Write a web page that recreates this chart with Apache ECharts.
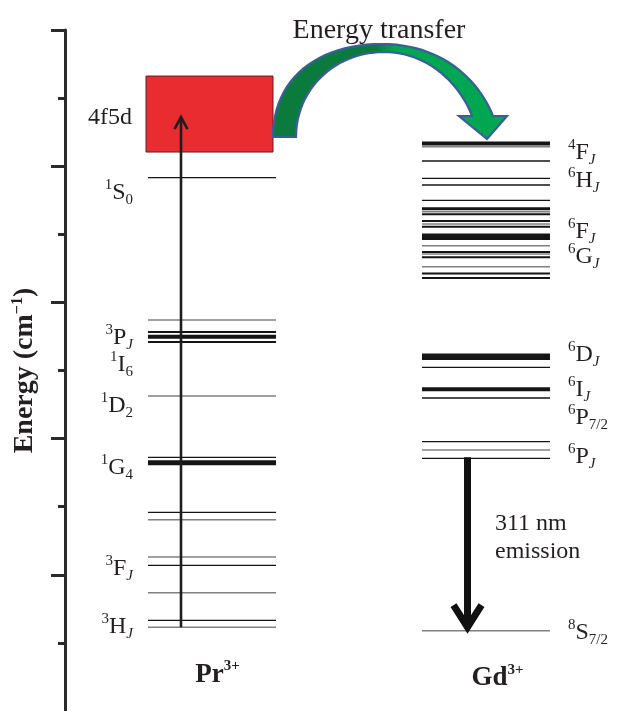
<!DOCTYPE html>
<html><head><meta charset="utf-8">
<script src="https://cdn.jsdelivr.net/npm/echarts@6/dist/echarts.min.js"></script>
<style>html,body{margin:0;padding:0;background:#fff}#c{width:643px;height:711px}</style>
</head><body><div id="c"></div>
<script>
// ---- Data (energies in cm^-1 on the schematic axis) ----
const axisMin = 0, axisMax = 50000, axisStep = 10000;
const majorTicks = [10000, 20000, 30000, 40000, 50000];

const pr4f5dBand = [41040, 46620];
const prLevels = [39155, 28707, 27826, 27481, 27092, 23127, 18627, 18230, 14589, 14045, 11307, 10697, 8686, 6659, 6145];
const prLevelStyle = ['k1','g1','k2','k4','k2','g1','k1','k5','k1','g1','g1','k1','g1','k1','g1'];
const prLabels = ['{sup|1}{m|S}{sub|0}', '{sup|3}{m|P}{subi|J}', '{sup|1}{m|I}{sub|6}', '{sup|1}{m|D}{sub|2}', '{sup|1}{m|G}{sub|4}', '{sup|3}{m|F}{subi|J}', '{sup|3}{m|H}{subi|J}'];
const prLabelEnergy = [38252, 27606, 25624, 22613, 18061, 10645, 6388];

const gdLevels = [41666, 41431, 40381, 39111, 38619, 37496, 36879, 36651, 36468, 35976, 35756, 35557, 34823, 34162, 33700, 33553, 33311, 32621, 32121, 31791, 26013, 25234, 23619, 22980, 19772, 19163, 18553, 5896];
const gdLevelStyle = ['k4','g1','k1','k1','k1','k1','k3','g1','k2','k2','g1','k2','k7','g1','k2','g1','k2','g1','k2','k2','k7','k1','k4','k1','k1','g1','k1','g1'];
const gdLabels = ['{sup|4}{m|F}{subi|J}', '{sup|6}{m|H}{subi|J}', '{sup|6}{m|F}{subi|J}', '{sup|6}{m|G}{subi|J}', '{sup|6}{m|D}{subi|J}', '{sup|6}{m|I}{subi|J}', '{sup|6}{m|P}{sub|7/2}', '{sup|6}{m|P}{subi|J}', '{sup|8}{m|S}{sub|7/2}'];
const gdLabelEnergy = [41152, 39133, 35388, 33553, 26321, 23788, 21732, 18832, 5910];

const excitation = [6145, 43611];   // Pr3+ ground -> 4f5d
const emission = [18553, 5896];     // Gd3+ 6P7/2 -> 8S7/2 (311 nm)

// ---- Layout / style (not data) ----
const PR_X = [148, 276], GD_X = [422, 550], BOX_X = [146, 273];
const EXC_X = 181, EMI_X = 467.5;
const TEXT_DY = 2.5;
const FONT = "'Liberation Serif','Times New Roman',serif";
const TXT = '#231f20';
const LS = {
  k1: {stroke: '#151515', lineWidth: 1.3},
  g1: {stroke: '#808080', lineWidth: 1.5},
  k2: {stroke: '#151515', lineWidth: 2},
  k3: {stroke: '#151515', lineWidth: 3},
  k4: {stroke: '#151515', lineWidth: 4},
  k5: {stroke: '#151515', lineWidth: 5},
  k7: {stroke: '#151515', lineWidth: 6.5}
};
function rich(size, supSize, lh) {
  return {
    m: {fontFamily: FONT, fontSize: size, lineHeight: lh, fill: TXT, verticalAlign: 'middle'},
    sup: {fontFamily: FONT, fontSize: supSize, lineHeight: 18, fill: TXT, verticalAlign: 'top'},
    sub: {fontFamily: FONT, fontSize: supSize, lineHeight: 16, fill: TXT, verticalAlign: 'bottom'},
    subi: {fontFamily: FONT, fontSize: supSize, lineHeight: 16, fill: TXT, fontStyle: 'italic', verticalAlign: 'bottom'},
    b: {fontFamily: FONT, fontSize: size, fontWeight: 'bold', lineHeight: lh, fill: TXT, verticalAlign: 'middle'},
    bsup: {fontFamily: FONT, fontSize: supSize, fontWeight: 'bold', lineHeight: 22, fill: TXT, verticalAlign: 'top'}
  };
}

// curved energy-transfer arrow geometry in (x, energy)
const ctOuter = [[273,42143],[273,46475],[318,48971],[382,48971],[440,48971],[478,46475],[493,43685]];
const ctHead = [[507,43685],[487,41996],[459,43685],[472,43685]];
const ctInner = [[472,43685],[460,46034],[428,48384],[384,48384],[334,48384],[296,45594],[296,42143]];

function bez(p0, p1, p2, p3, n) {
  const out = [];
  for (let i = 0; i <= n; i++) {
    const t = i / n, u = 1 - t;
    out.push([
      u*u*u*p0[0] + 3*u*u*t*p1[0] + 3*u*t*t*p2[0] + t*t*t*p3[0],
      u*u*u*p0[1] + 3*u*u*t*p1[1] + 3*u*t*t*p2[1] + t*t*t*p3[1]
    ]);
  }
  return out;
}

const chart = echarts.init(document.getElementById('c'));

function textEl(api, x, e, text, align, size, supSize, lh) {
  const p = api.coord([x, e]);
  return {type: 'text', x: p[0], y: p[1] + TEXT_DY, style: {
    text: text, rich: rich(size, supSize, lh), align: align, verticalAlign: 'middle',
    fontFamily: FONT, fontSize: size, fill: TXT, lineHeight: lh
  }};
}

const option = {
  animation: false,
  grid: {left: 65, right: 0, top: 30, bottom: 0, containLabel: false, outerBoundsMode: 'none'},
  xAxis: {type: 'value', min: 65, max: 643, show: false},
  yAxis: {
    type: 'value', min: axisMin, max: axisMax, interval: axisStep, position: 'left',
    name: 'Energy (cm{sup|−1})', nameLocation: 'middle', nameGap: 25, nameRotate: 90,
    nameTextStyle: {fontFamily: FONT, fontSize: 28, fontWeight: 'bold', color: TXT, lineHeight: 30,
      rich: {sup: {fontFamily: FONT, fontSize: 16, fontWeight: 'bold', color: TXT, verticalAlign: 'top', lineHeight: 18}}},
    axisLine: {show: true, lineStyle: {color: '#2b2b2b', width: 3}},
    axisTick: {show: true, length: 14, customValues: majorTicks, lineStyle: {color: '#2b2b2b', width: 3}},
    minorTick: {show: true, splitNumber: 2, length: 7, lineStyle: {color: '#2b2b2b', width: 3}},
    axisLabel: {show: false},
    splitLine: {show: false}, minorSplitLine: {show: false}
  },
  series: [
    { // 4f5d band
      type: 'custom', silent: true, data: [pr4f5dBand],
      renderItem: (params, api) => {
        const a = api.coord([BOX_X[0], pr4f5dBand[1]]), b = api.coord([BOX_X[1], pr4f5dBand[0]]);
        return {type: 'rect', shape: {x: a[0], y: a[1], width: b[0]-a[0], height: b[1]-a[1]},
          style: {fill: '#e82c30', stroke: '#6b1c1c', lineWidth: 1}};
      }
    },
    { // energy transfer curved arrow
      type: 'custom', silent: true, data: [0],
      renderItem: (params, api) => {
        let pts = [];
        pts = pts.concat(bez(ctOuter[0], ctOuter[1], ctOuter[2], ctOuter[3], 24));
        pts = pts.concat(bez(ctOuter[3], ctOuter[4], ctOuter[5], ctOuter[6], 24).slice(1));
        pts = pts.concat(ctHead);
        pts = pts.concat(bez(ctInner[0], ctInner[1], ctInner[2], ctInner[3], 24).slice(1));
        pts = pts.concat(bez(ctInner[3], ctInner[4], ctInner[5], ctInner[6], 24).slice(1));
        const px = pts.map(p => api.coord(p));
        return {type: 'polygon', shape: {points: px}, style: {
          fill: new echarts.graphic.LinearGradient(0, 0, 1, 0, [
            {offset: 0, color: '#0b7b3d'}, {offset: 0.44, color: '#0b7b3d'},
            {offset: 0.52, color: '#00a651'}, {offset: 1, color: '#00a651'}]),
          stroke: '#3a5f98', lineWidth: 2.2, lineJoin: 'miter'}};
      }
    },
    { // Pr levels
      type: 'custom', silent: true, data: prLevels.map(e => [PR_X[0], e]),
      renderItem: (params, api) => {
        const e = prLevels[params.dataIndex];
        const a = api.coord([PR_X[0], e]), b = api.coord([PR_X[1], e]);
        return {type: 'line', shape: {x1: a[0], y1: a[1], x2: b[0], y2: b[1]}, style: LS[prLevelStyle[params.dataIndex]]};
      }
    },
    { // Gd levels
      type: 'custom', silent: true, data: gdLevels.map(e => [GD_X[0], e]),
      renderItem: (params, api) => {
        const e = gdLevels[params.dataIndex];
        const a = api.coord([GD_X[0], e]), b = api.coord([GD_X[1], e]);
        return {type: 'line', shape: {x1: a[0], y1: a[1], x2: b[0], y2: b[1]}, style: LS[gdLevelStyle[params.dataIndex]]};
      }
    },
    { // excitation arrow
      type: 'custom', silent: true, data: [excitation],
      renderItem: (params, api) => {
        const a = api.coord([EXC_X, excitation[0]]), t = api.coord([EXC_X, excitation[1]]);
        return {type: 'group', children: [
          {type: 'line', shape: {x1: a[0], y1: a[1], x2: t[0], y2: t[1] + 1}, style: {stroke: '#1e1e1e', lineWidth: 2.6}},
          {type: 'polyline', shape: {points: [[t[0]-6.5, t[1]+12], [t[0], t[1]], [t[0]+6.5, t[1]+12]]}, style: {stroke: '#1e1e1e', lineWidth: 2.6, fill: null}}
        ]};
      }
    },
    { // emission arrow
      type: 'custom', silent: true, data: [emission],
      renderItem: (params, api) => {
        const a = api.coord([EMI_X, emission[0]]), t = api.coord([EMI_X, emission[1]]);
        const tip = [t[0], t[1] - 3.5];
        return {type: 'group', children: [
          {type: 'line', shape: {x1: a[0], y1: a[1] - 1, x2: tip[0], y2: tip[1] - 4}, style: {stroke: '#111', lineWidth: 7}},
          {type: 'polyline', shape: {points: [[tip[0]-14, tip[1]-22], tip, [tip[0]+14, tip[1]-22]]}, style: {stroke: '#111', lineWidth: 7, lineJoin: 'miter', fill: null}}
        ]};
      }
    },
    { // Pr labels
      type: 'custom', silent: true, data: prLabels.map((l, i) => [133, prLabelEnergy[i]]),
      renderItem: (params, api) => textEl(api, 133, prLabelEnergy[params.dataIndex], prLabels[params.dataIndex], 'right', 24, 15, 30)
    },
    { // Gd labels
      type: 'custom', silent: true, data: gdLabels.map((l, i) => [568, gdLabelEnergy[i]]),
      renderItem: (params, api) => textEl(api, 568, gdLabelEnergy[params.dataIndex], gdLabels[params.dataIndex], 'left', 24, 15, 30)
    },
    { // free annotations
      type: 'custom', silent: true, data: [0, 1, 2, 3, 4, 5],
      renderItem: (params, api) => {
        const i = params.dataIndex;
        if (i === 0) return textEl(api, 132, 43758, '{m|4f5d}', 'right', 24, 15, 30);
        if (i === 1) return textEl(api, 379, 50150, '{m|Energy transfer}', 'center', 28, 15, 30);
        if (i === 2) return textEl(api, 495, 13950, '{m|311 nm}', 'left', 24, 15, 30);
        if (i === 3) return textEl(api, 495, 11894, '{m|emission}', 'left', 24, 15, 30);
        if (i === 4) return textEl(api, 217.5, 2827, '{b|Pr}{bsup|3+}', 'center', 27, 15, 32);
        return textEl(api, 497.5, 2570, '{b|Gd}{bsup|3+}', 'center', 27, 15, 32);
      }
    }
  ]
};
chart.setOption(option);
</script>
</body></html>
